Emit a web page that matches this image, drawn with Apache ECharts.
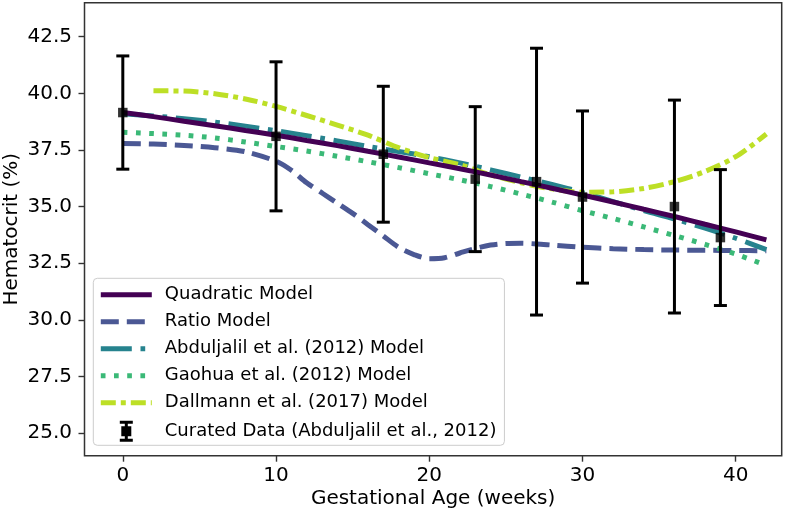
<!DOCTYPE html>
<html><head><meta charset="utf-8">
<script src="https://cdn.jsdelivr.net/npm/echarts@6/dist/echarts.min.js"></script>
<style>html,body{margin:0;padding:0;background:#fff}#c{width:785px;height:515px}</style>
</head><body><div id="c"></div>
<script>
// ---- data ----
const xTicks = [0, 10, 20, 30, 40];
const yTicks = [25.0, 27.5, 30.0, 32.5, 35.0, 37.5, 40.0, 42.5];

const quadX = [0,2,4,6,8,10,12,14,16,18,20,22,24,26,28,30,32,34,36,38,40,42];
const quadY = [39.15,38.97,38.77,38.57,38.36,38.15,37.92,37.69,37.44,37.19,36.93,36.67,36.39,36.10,35.81,35.51,35.20,34.88,34.56,34.22,33.88,33.53];

const ratioX = [0,2,4,6,8,10,11,12,13,14,15,16,17,18,19,20,21,22,23,24,25,26,27,28,30,32,34,36,38,40,42];
const ratioY = [37.78,37.76,37.70,37.60,37.42,37.00,36.60,36.05,35.60,35.15,34.70,34.20,33.70,33.20,32.88,32.70,32.74,32.95,33.15,33.30,33.37,33.38,33.35,33.30,33.20,33.14,33.10,33.08,33.07,33.06,33.05];

const abdX = [0,2,4,6,8,10,12,14,16,18,20,22,24,26,28,30,32,34,36,38,40,42];
const abdY = [39.10,39.00,38.88,38.73,38.55,38.35,38.13,37.90,37.65,37.43,37.20,36.93,36.62,36.30,35.98,35.62,35.22,34.82,34.45,34.05,33.60,33.10];

const gaoX = [0,2,4,6,8,10,12,14,16,18,20,22,24,26,28,30,32,34,36,38,40,42];
const gaoY = [38.28,38.22,38.15,38.03,37.85,37.65,37.45,37.22,36.98,36.72,36.45,36.18,35.88,35.55,35.20,34.82,34.47,34.10,33.72,33.33,32.90,32.40];

const dalX = [2,4,6,8,10,12,14,16,18,20,22,24,26,28,30,32,34,36,38,40,42];
const dalY = [40.11,40.10,39.98,39.75,39.42,39.02,38.60,38.15,37.60,37.16,36.85,36.40,36.05,35.78,35.63,35.65,35.80,36.10,36.55,37.20,38.20];

const dataX = [0, 10, 17, 23, 27, 30, 36, 39];
const dataMean = [39.15, 38.10, 37.31, 36.21, 36.10, 35.42, 35.00, 33.63];
const dataSD = [2.50, 3.29, 3.00, 3.20, 5.89, 3.80, 4.70, 3.00];

const names = ['Quadratic Model', 'Ratio Model', 'Abduljalil et al. (2012) Model',
  'Gaohua et al. (2012) Model', 'Dallmann et al. (2017) Model', 'Curated Data (Abduljalil et al., 2012)'];
const colors = ['#440154', '#4b5894', '#26838e', '#3bb977', '#bddf26'];

const zip = (xs, ys) => xs.map((x, i) => [x, ys[i]]);
const FONT = 'DejaVu Sans';

function lineSeries(i, xs, ys, type, z) {
  return {
    name: names[i], type: 'line', data: zip(xs, ys), smooth: 0.3,
    symbol: 'none', showSymbol: false, z: z,
    lineStyle: { color: colors[i], width: 5, type: type, cap: 'butt' },
    itemStyle: { color: colors[i] }
  };
}

const errIcon = 'path://M0,0H13V3H8V5.5H11.5V15.5H8V18H13V21H0V18H5V15.5H1.5V5.5H5V3H0Z';

const chart = echarts.init(document.getElementById('c'), null, { renderer: 'canvas' });
chart.setOption({
  animation: false,
  backgroundColor: '#fff',
  grid: { left: 84.5, right: 3.3, top: 2.7, bottom: 59.3, show: true, containLabel: false,
          outerBoundsMode: 'none',
          borderColor: '#333', borderWidth: 1.5, backgroundColor: 'transparent' },
  xAxis: {
    type: 'value', min: -2.5, max: 43,
    name: 'Gestational Age (weeks)', nameLocation: 'middle', nameGap: 33, nameMoveOverlap: false,
    nameTextStyle: { fontFamily: FONT, fontSize: 20, color: '#000' },
    axisLine: { show: false, onZero: false },
    splitLine: { show: false },
    axisTick: { show: true, length: 6, lineStyle: { color: '#333', width: 1.4 }, customValues: xTicks },
    axisLabel: { fontFamily: FONT, fontSize: 20, color: '#000', margin: 10, customValues: xTicks }
  },
  yAxis: {
    type: 'value', min: 24, max: 44,
    name: 'Hematocrit (%)', nameLocation: 'middle', nameGap: 63, nameRotate: 90, nameMoveOverlap: false,
    nameTextStyle: { fontFamily: FONT, fontSize: 20, color: '#000' },
    axisLine: { show: false, onZero: false },
    splitLine: { show: false },
    axisTick: { show: true, length: 6, lineStyle: { color: '#333', width: 1.4 }, customValues: yTicks },
    axisLabel: { fontFamily: FONT, fontSize: 20, color: '#000', margin: 12.5, customValues: yTicks,
                 formatter: v => v.toFixed(1) }
  },
  legend: {
    orient: 'vertical', left: 93.3, top: 278.3,
    padding: [7.5, 8, 3.5, 5], itemGap: 9, itemWidth: 51, itemHeight: 21,
    backgroundColor: 'rgba(255,255,255,0.8)', borderColor: '#cccccc', borderWidth: 1, borderRadius: 4,
    textStyle: { fontFamily: FONT, fontSize: 18, color: '#000', lineHeight: 18, padding: [0, 0, 0, 8] },
    itemStyle: { opacity: 0 },
    lineStyle: { width: 5 },
    selectedMode: false,
    data: [
      { name: names[0] }, { name: names[1] }, { name: names[2] }, { name: names[3] }, { name: names[4] },
      { name: names[5], icon: errIcon, itemStyle: { color: '#000', opacity: 1 } }
    ]
  },
  series: [
    lineSeries(1, ratioX, ratioY, [18, 8], 2),
    lineSeries(2, abdX, abdY, [31, 8.7, 4.7, 8.7], 3),
    lineSeries(3, gaoX, gaoY, [4.7, 8.5], 4),
    lineSeries(4, dalX, dalY, [15, 5, 5, 5], 5),
    lineSeries(0, quadX, quadY, 'solid', 6),
    {
      name: names[5], type: 'custom', z: 8,
      data: dataX.map((x, i) => [x, dataMean[i], dataSD[i]]),
      encode: { x: 0, y: 1 },
      itemStyle: { color: '#000' },
      renderItem: function (params, api) {
        const x = api.value(0), m = api.value(1), e = api.value(2);
        const top = api.coord([x, m + e]), bot = api.coord([x, m - e]);
        const cw = 6.5;
        const st = { stroke: '#000', lineWidth: 3 };
        return { type: 'group', children: [
          { type: 'line', shape: { x1: top[0], y1: top[1], x2: bot[0], y2: bot[1] }, style: st },
          { type: 'line', shape: { x1: top[0] - cw, y1: top[1], x2: top[0] + cw, y2: top[1] }, style: st },
          { type: 'line', shape: { x1: bot[0] - cw, y1: bot[1], x2: bot[0] + cw, y2: bot[1] }, style: st }
        ]};
      }
    },
    {
      name: names[5], type: 'scatter', z: 9, symbol: 'rect', symbolSize: 9.5,
      data: zip(dataX, dataMean), itemStyle: { color: '#000' }
    }
  ]
});
</script>
</body></html>
